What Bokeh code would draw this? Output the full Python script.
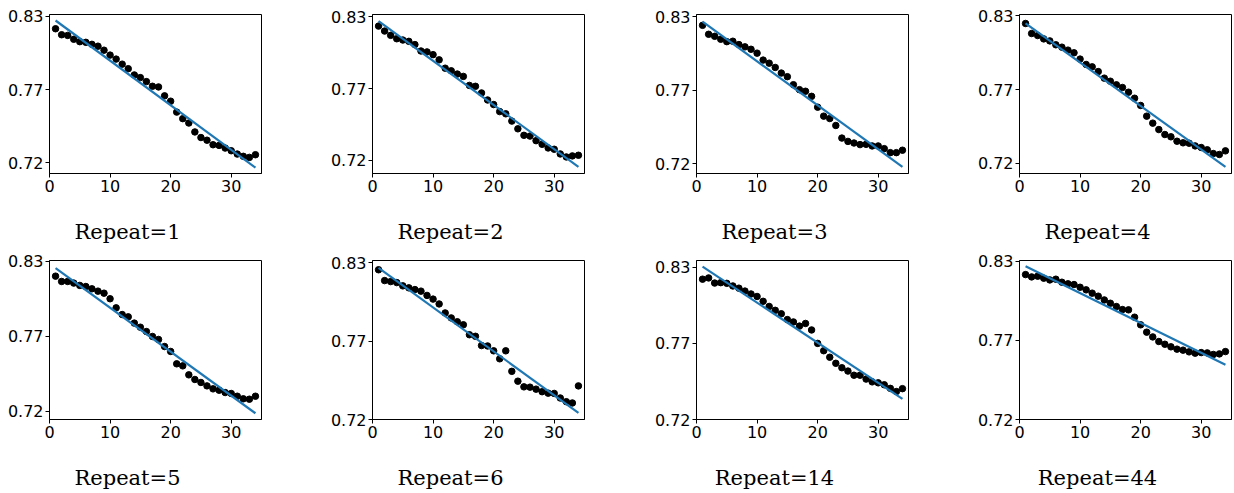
from bokeh.plotting import figure
from bokeh.layouts import row, column
from bokeh.models import FixedTicker, Range1d
from bokeh.core.properties import value
from bokeh.embed import file_html
from bokeh.resources import INLINE

# ---------------- data ----------------
epochs = list(range(1, 35))

repeat_labels = ["Repeat=1", "Repeat=2", "Repeat=3", "Repeat=4",
                 "Repeat=5", "Repeat=6", "Repeat=14", "Repeat=44"]

acc_r1 = [0.8208, 0.8163, 0.8158, 0.8129, 0.8111, 0.8106, 0.8091, 0.8077, 0.8047, 0.8010,
          0.7980, 0.7942, 0.7908, 0.7861, 0.7841, 0.7811, 0.7776, 0.7771, 0.7704, 0.7664,
          0.7582, 0.7533, 0.7500, 0.7433, 0.7391, 0.7371, 0.7337, 0.7332, 0.7312, 0.7292,
          0.7267, 0.7250, 0.7242, 0.7262]
acc_r2 = [0.8229, 0.8191, 0.8158, 0.8132, 0.8122, 0.8112, 0.8087, 0.8038, 0.8031, 0.8010,
          0.7970, 0.7906, 0.7886, 0.7861, 0.7843, 0.7774, 0.7767, 0.7716, 0.7662, 0.7627,
          0.7573, 0.7556, 0.7500, 0.7441, 0.7391, 0.7385, 0.7350, 0.7322, 0.7294, 0.7284,
          0.7248, 0.7225, 0.7233, 0.7238]
acc_r3 = [0.8236, 0.8169, 0.8154, 0.8132, 0.8114, 0.8117, 0.8092, 0.8075, 0.8057, 0.8028,
          0.7976, 0.7953, 0.7921, 0.7879, 0.7852, 0.7792, 0.7755, 0.7743, 0.7705, 0.7624,
          0.7557, 0.7539, 0.7487, 0.7393, 0.7368, 0.7356, 0.7344, 0.7346, 0.7334, 0.7334,
          0.7314, 0.7284, 0.7284, 0.7302]
acc_r4 = [0.8243, 0.8168, 0.8153, 0.8128, 0.8113, 0.8084, 0.8066, 0.8044, 0.8024, 0.7977,
          0.7937, 0.7919, 0.7884, 0.7835, 0.7812, 0.7785, 0.7765, 0.7730, 0.7685, 0.7631,
          0.7551, 0.7499, 0.7451, 0.7414, 0.7397, 0.7364, 0.7352, 0.7349, 0.7329, 0.7317,
          0.7300, 0.7272, 0.7265, 0.7292]
acc_r5 = [0.8192, 0.8153, 0.8153, 0.8141, 0.8124, 0.8116, 0.8099, 0.8082, 0.8067, 0.8026,
          0.7959, 0.7910, 0.7893, 0.7847, 0.7817, 0.7785, 0.7749, 0.7727, 0.7675, 0.7639,
          0.7548, 0.7533, 0.7467, 0.7433, 0.7411, 0.7386, 0.7364, 0.7354, 0.7337, 0.7330,
          0.7310, 0.7291, 0.7288, 0.7310]
acc_r6 = [0.8251, 0.8175, 0.8168, 0.8161, 0.8138, 0.8124, 0.8112, 0.8101, 0.8071, 0.8045,
          0.8011, 0.7948, 0.7913, 0.7886, 0.7865, 0.7795, 0.7784, 0.7719, 0.7716, 0.7682,
          0.7626, 0.7682, 0.7538, 0.7469, 0.7429, 0.7427, 0.7413, 0.7395, 0.7385, 0.7383,
          0.7351, 0.7325, 0.7316, 0.7436]
acc_r14 = [0.8214, 0.8223, 0.8186, 0.8189, 0.8184, 0.8165, 0.8149, 0.8128, 0.8107, 0.8089,
           0.8054, 0.8017, 0.7989, 0.7964, 0.7922, 0.7905, 0.7875, 0.7894, 0.7847, 0.7750,
           0.7697, 0.7650, 0.7606, 0.7574, 0.7550, 0.7520, 0.7520, 0.7492, 0.7472, 0.7465,
           0.7451, 0.7425, 0.7402, 0.7423]
acc_r44 = [0.8207, 0.8191, 0.8196, 0.8182, 0.8170, 0.8175, 0.8154, 0.8143, 0.8138, 0.8119,
           0.8101, 0.8078, 0.8057, 0.8031, 0.8008, 0.7985, 0.7964, 0.7962, 0.7911, 0.7858,
           0.7807, 0.7774, 0.7742, 0.7723, 0.7705, 0.7689, 0.7682, 0.7670, 0.7661, 0.7665,
           0.7663, 0.7652, 0.7656, 0.7672]

# fitted trend line: value at first and last epoch
fit_x = [1, 34]
fit_r1 = [0.8270, 0.7165]
fit_r2 = [0.8267, 0.7149]
fit_r3 = [0.8263, 0.7178]
fit_r4 = [0.8243, 0.7173]
fit_r5 = [0.8251, 0.7185]
fit_r6 = [0.8265, 0.7246]
fit_r14 = [0.8305, 0.7349]
fit_r44 = [0.8265, 0.7580]

xtick_values = [0, 10, 20, 30]
ytick_values = [0.72, 0.775, 0.83]
ytick_labels = ["0.72", "0.77", "0.83"]

series = [acc_r1, acc_r2, acc_r3, acc_r4, acc_r5, acc_r6, acc_r14, acc_r44]
fits = [fit_r1, fit_r2, fit_r3, fit_r4, fit_r5, fit_r6, fit_r14, fit_r44]

# ---------------- layout ----------------
PAGE_W = 1234
y_limits = [(0.7121, 0.8315), (0.7098, 0.8318), (0.7128, 0.8317), (0.7123, 0.8310),
            (0.7139, 0.8307), (0.7200, 0.8316), (0.7200, 0.8349), (0.7200, 0.8305)]
col_widths = [323, 324, 323, 263]
border_left = 49
frame_w = 212
panel_h = 200
border_tops = [[12, 13, 13, 14], [14, 12, 8, 14]]
border_bottom = 27
strip_h = 46
title_center_from_col = 127   # title centre, px from the column's left edge
title_mid = 31                # vertical centre of title text, px from top of strip

BLUE = "#1f77b4"


def make_panel(k):
    r, c = divmod(k, 4)
    W = col_widths[c]
    p = figure(width=W, height=panel_h, output_backend="svg", toolbar_location=None,
               x_range=Range1d(0, 35), y_range=Range1d(*y_limits[k]),
               min_border_left=border_left, min_border_right=W - border_left - frame_w,
               min_border_top=border_tops[r][c], min_border_bottom=border_bottom)
    p.grid.visible = False
    p.outline_line_color = "black"
    p.outline_line_width = 1
    p.background_fill_color = "white"
    p.border_fill_color = "white"

    for ax in (p.xaxis[0], p.yaxis[0]):
        ax.axis_line_color = "black"
        ax.major_tick_line_color = "black"
        ax.major_tick_out = 4
        ax.major_tick_in = 0
        ax.minor_tick_line_color = None
        ax.major_label_text_font = "DejaVu Sans"
        ax.major_label_text_font_size = "16px"
        ax.major_label_text_color = "black"
        ax.major_label_standoff = 2

    p.xaxis[0].ticker = FixedTicker(ticks=xtick_values)
    p.yaxis[0].ticker = FixedTicker(ticks=ytick_values)
    p.yaxis[0].major_label_overrides = {v: s for v, s in zip(ytick_values, ytick_labels)}

    p.scatter(epochs, series[k], size=6.5, color="black", line_color="black")
    p.line(fit_x, fits[k], line_color=BLUE, line_width=2.2)
    return p


def make_title_strip(labels):
    s = figure(width=PAGE_W, height=strip_h, output_backend="svg", toolbar_location=None,
               x_range=Range1d(0, PAGE_W), y_range=Range1d(strip_h, 0),
               x_axis_type=None, y_axis_type=None,
               min_border_left=0, min_border_right=0, min_border_top=0, min_border_bottom=0)
    s.grid.visible = False
    s.outline_line_color = None
    s.background_fill_color = "white"
    s.border_fill_color = "white"
    starts = [sum(col_widths[:i]) for i in range(4)]
    xs = [st + title_center_from_col for st in starts]
    s.text(x=xs, y=[title_mid] * 4, text=labels,
           text_font=value("DejaVu Serif"), text_font_size=value("21px"),
           text_align="center", text_baseline="middle", text_color="black")
    return s


panels = [make_panel(k) for k in range(8)]
layout = column(
    row(panels[:4], spacing=0),
    make_title_strip(repeat_labels[:4]),
    row(panels[4:], spacing=0),
    make_title_strip(repeat_labels[4:]),
    spacing=0,
)

open("out.html", "w").write(file_html(layout, INLINE))
